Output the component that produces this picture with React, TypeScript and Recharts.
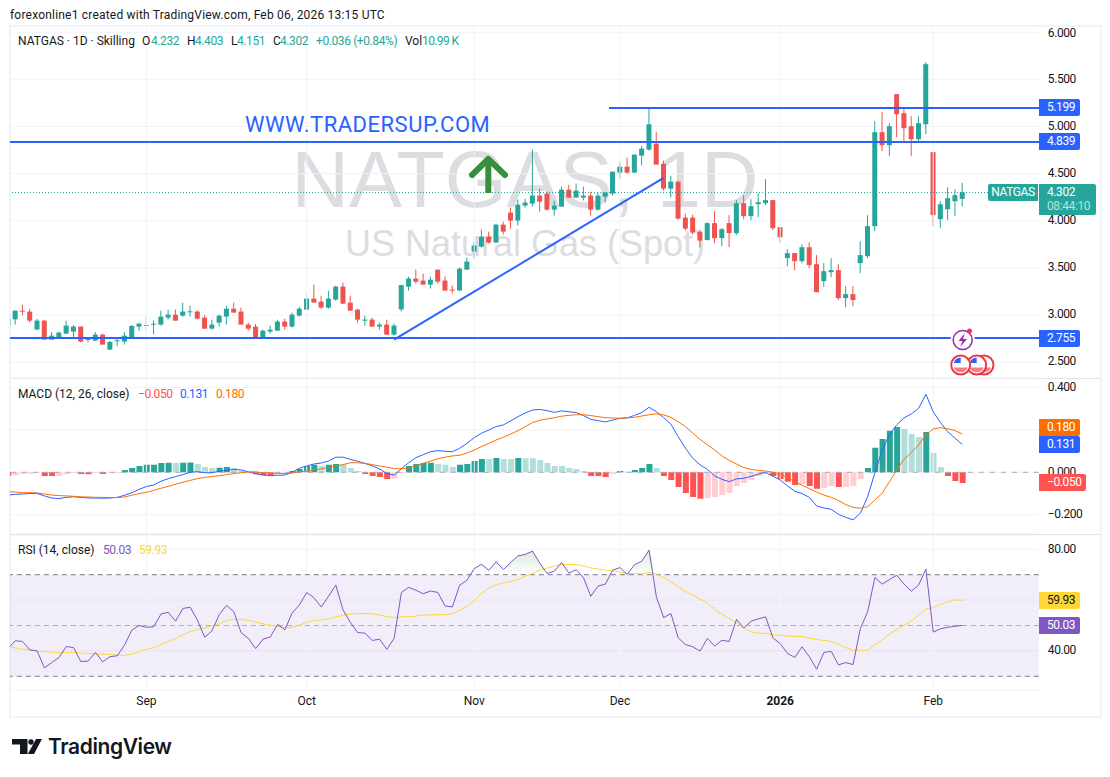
import React from 'react';
import {
  Area,
  Bar,
  CartesianGrid,
  Cell,
  ComposedChart,
  Line,
  ReferenceArea,
  ReferenceLine,
  XAxis,
  YAxis,
} from 'recharts';

// daily OHLC, one row of ten sessions per line
const opens = [
  2.888, 2.955, 3.047, 3.037, 2.846, 2.941, 2.740, 2.765, 2.803, 2.825,
  2.878, 2.736, 2.729, 2.793, 2.634, 2.722, 2.719, 2.761, 2.878, 2.885,
  2.899, 2.899, 2.973, 3.005, 2.994, 3.030, 3.037, 2.973, 2.856, 2.920,
  2.984, 3.068, 3.037, 2.899, 2.878, 2.765, 2.825, 2.835, 2.931, 2.878,
  2.994, 3.058, 3.175, 3.143, 3.079, 3.164, 3.302, 3.132, 3.058, 2.941,
  2.952, 2.878, 2.899, 2.793, 3.060, 3.302, 3.387, 3.366, 3.323, 3.482,
  3.366, 3.270, 3.260, 3.482, 3.673, 3.726, 3.832, 3.769, 3.959, 4.087,
  4.002, 4.161, 4.182, 4.267, 4.288, 4.118, 4.150, 4.330, 4.246, 4.246,
  4.267, 4.118, 4.256, 4.288, 4.511, 4.574, 4.511, 4.691, 4.755, 4.818,
  4.606, 4.341, 4.415, 4.034, 4.034, 3.885, 3.795, 3.975, 3.816, 3.975,
  3.869, 4.187, 4.049, 4.176, 4.187, 4.219, 3.932, 3.604, 3.657, 3.572,
  3.720, 3.540, 3.360, 3.455, 3.477, 3.180, 3.222, 3.551, 3.625, 3.943,
  4.940, 4.802, 5.343, 5.141, 5.003, 4.865, 5.024, 4.728, 4.017, 4.123,
  4.208, 4.232,
];
const highs = [
  2.970, 3.047, 3.111, 3.065, 2.959, 2.948, 2.821, 2.825, 2.941, 2.895,
  2.878, 2.765, 2.821, 2.803, 2.726, 2.757, 2.821, 2.895, 2.917, 2.984,
  2.941, 3.047, 3.058, 3.058, 3.132, 3.100, 3.054, 3.001, 2.952, 3.005,
  3.100, 3.132, 3.079, 2.920, 2.906, 2.846, 2.888, 2.952, 2.962, 3.026,
  3.090, 3.227, 3.323, 3.206, 3.259, 3.312, 3.344, 3.206, 3.068, 2.994,
  2.973, 2.920, 2.952, 2.909, 3.320, 3.408, 3.482, 3.440, 3.408, 3.482,
  3.408, 3.313, 3.504, 3.610, 3.779, 3.906, 3.885, 3.970, 3.991, 4.140,
  4.224, 4.235, 4.755, 4.341, 4.309, 4.214, 4.362, 4.383, 4.394, 4.362,
  4.309, 4.299, 4.299, 4.521, 4.627, 4.670, 4.702, 4.797, 5.193, 4.945,
  4.638, 4.479, 4.426, 4.076, 4.065, 3.906, 3.985, 4.102, 3.922, 4.060,
  4.219, 4.272, 4.229, 4.293, 4.441, 4.219, 3.932, 3.699, 3.657, 3.752,
  3.773, 3.636, 3.551, 3.604, 3.540, 3.307, 3.307, 3.784, 4.060, 5.056,
  5.152, 5.035, 5.343, 5.183, 5.109, 5.109, 5.682, 4.728, 4.208, 4.356,
  4.335, 4.403,
];
const lows = [
  2.881, 2.899, 2.998, 2.920, 2.846, 2.740, 2.740, 2.754, 2.803, 2.768,
  2.712, 2.712, 2.729, 2.687, 2.634, 2.669, 2.687, 2.754, 2.835, 2.835,
  2.793, 2.888, 2.952, 2.941, 2.984, 2.984, 2.952, 2.856, 2.846, 2.878,
  2.899, 3.026, 2.899, 2.835, 2.761, 2.765, 2.803, 2.835, 2.846, 2.867,
  2.984, 3.058, 3.132, 3.068, 3.068, 3.153, 3.121, 3.047, 2.920, 2.888,
  2.878, 2.846, 2.793, 2.782, 3.040, 3.260, 3.334, 3.323, 3.281, 3.334,
  3.260, 3.228, 3.260, 3.482, 3.599, 3.716, 3.758, 3.769, 3.853, 3.917,
  3.949, 4.140, 4.150, 4.097, 4.108, 4.055, 4.150, 4.246, 4.246, 4.214,
  4.055, 4.108, 4.193, 4.267, 4.447, 4.500, 4.511, 4.585, 4.744, 4.596,
  4.320, 4.246, 4.012, 3.896, 3.853, 3.716, 3.795, 3.763, 3.731, 3.720,
  3.848, 4.017, 4.007, 4.038, 4.166, 3.901, 3.763, 3.519, 3.477, 3.551,
  3.498, 3.243, 3.296, 3.402, 3.159, 3.084, 3.095, 3.445, 3.604, 3.890,
  4.738, 4.685, 4.887, 4.844, 4.685, 4.834, 4.918, 3.943, 3.922, 4.007,
  4.049, 4.151,
];
const closes = [
  2.959, 3.047, 3.037, 2.941, 2.941, 2.740, 2.782, 2.814, 2.888, 2.878,
  2.719, 2.747, 2.793, 2.687, 2.715, 2.733, 2.782, 2.885, 2.909, 2.895,
  2.909, 2.984, 3.005, 2.941, 3.037, 3.040, 2.962, 2.856, 2.899, 2.994,
  3.068, 3.026, 2.899, 2.856, 2.761, 2.835, 2.846, 2.931, 2.878, 3.005,
  3.068, 3.175, 3.132, 3.079, 3.175, 3.302, 3.121, 3.047, 2.952, 2.952,
  2.878, 2.899, 2.793, 2.888, 3.318, 3.387, 3.355, 3.323, 3.376, 3.355,
  3.260, 3.260, 3.493, 3.567, 3.737, 3.832, 3.769, 3.959, 3.885, 4.002,
  4.171, 4.193, 4.267, 4.203, 4.118, 4.161, 4.330, 4.246, 4.320, 4.267,
  4.118, 4.267, 4.299, 4.521, 4.574, 4.511, 4.702, 4.765, 5.023, 4.596,
  4.341, 4.415, 4.023, 3.917, 3.875, 3.790, 3.975, 3.816, 3.911, 3.869,
  4.187, 4.049, 4.155, 4.197, 4.219, 3.922, 3.826, 3.657, 3.572, 3.720,
  3.530, 3.243, 3.466, 3.477, 3.180, 3.222, 3.159, 3.636, 3.943, 4.940,
  4.802, 5.003, 5.130, 4.982, 4.865, 5.035, 5.661, 4.060, 4.176, 4.240,
  4.272, 4.302,
];

const macdHist = [
  -0.016, -0.014, -0.008, -0.008, -0.003, -0.017, -0.018, -0.017, -0.009, -0.003,
  -0.008, -0.009, -0.003, -0.008, -0.003, -0.003, 0.011, 0.02, 0.03, 0.035,
  0.036, 0.044, 0.045, 0.044, 0.045, 0.046, 0.039, 0.025, 0.02, 0.021,
  0.025, 0.02, 0.006, 0.001, -0.009, -0.013, -0.014, -0.005, -0.003, 0.006,
  0.016, 0.03, 0.035, 0.03, 0.035, 0.039, 0.035, 0.02, 0.006, -0.008,
  -0.017, -0.022, -0.031, -0.03, -0.003, 0.03, 0.039, 0.044, 0.045, 0.039,
  0.035, 0.025, 0.035, 0.039, 0.053, 0.063, 0.062, 0.067, 0.063, 0.063,
  0.067, 0.066, 0.066, 0.058, 0.044, 0.03, 0.03, 0.02, 0.016, 0.006,
  -0.017, -0.018, -0.022, -0.008, 0.006, 0.002, 0.011, 0.02, 0.039, 0.02,
  -0.017, -0.036, -0.069, -0.097, -0.116, -0.125, -0.121, -0.116, -0.107, -0.097,
  -0.064, -0.05, -0.036, -0.017, -0.008, -0.017, -0.031, -0.045, -0.06, -0.055,
  -0.064, -0.078, -0.074, -0.064, -0.069, -0.069, -0.064, -0.031, 0.02, 0.115,
  0.157, 0.195, 0.213, 0.204, 0.18, 0.166, 0.19, 0.091, 0.025, -0.017,
  -0.041, -0.05,
];
const macdLine = [
  -0.107, -0.104, -0.102, -0.100, -0.100, -0.111, -0.121, -0.124, -0.118, -0.115,
  -0.118, -0.121, -0.121, -0.122, -0.121, -0.118, -0.108, -0.096, -0.080, -0.067,
  -0.060, -0.042, -0.030, -0.020, -0.011, 0, 0.003, -0.002, -0.002, 0.005,
  0.009, 0.014, 0.011, 0.002, -0.006, -0.013, -0.016, -0.014, -0.013, 0,
  0.019, 0.030, 0.039, 0.044, 0.053, 0.071, 0.071, 0.061, 0.052, 0.042,
  0.030, 0.016, -0.006, -0.013, 0.017, 0.045, 0.069, 0.083, 0.097, 0.102,
  0.099, 0.097, 0.113, 0.136, 0.163, 0.184, 0.199, 0.215, 0.223, 0.242,
  0.262, 0.279, 0.293, 0.296, 0.290, 0.282, 0.289, 0.285, 0.281, 0.267,
  0.249, 0.243, 0.237, 0.246, 0.254, 0.256, 0.268, 0.281, 0.306, 0.285,
  0.257, 0.226, 0.168, 0.113, 0.066, 0.035, 0.014, -0.017, -0.033, -0.044,
  -0.031, -0.028, -0.019, -0.009, 0, -0.019, -0.036, -0.064, -0.089, -0.100,
  -0.118, -0.158, -0.168, -0.174, -0.198, -0.212, -0.224, -0.193, -0.115, -0.002,
  0.105, 0.176, 0.223, 0.256, 0.275, 0.301, 0.367, 0.285, 0.234, 0.191,
  0.160, 0.131,
];
const macdSignal = [
  -0.091, -0.093, -0.096, -0.096, -0.097, -0.102, -0.107, -0.110, -0.111, -0.113,
  -0.116, -0.116, -0.118, -0.118, -0.119, -0.119, -0.116, -0.108, -0.100, -0.094,
  -0.085, -0.075, -0.066, -0.056, -0.047, -0.038, -0.030, -0.024, -0.020, -0.016,
  -0.011, -0.006, -0.002, 0.002, 0.002, -0.002, -0.005, -0.006, -0.006, -0.003,
  0.002, 0.005, 0.011, 0.016, 0.024, 0.030, 0.036, 0.045, 0.045, 0.042,
  0.036, 0.030, 0.024, 0.017, 0.017, 0.020, 0.030, 0.042, 0.053, 0.064,
  0.071, 0.077, 0.080, 0.091, 0.105, 0.121, 0.136, 0.152, 0.165, 0.180,
  0.196, 0.215, 0.234, 0.245, 0.251, 0.257, 0.264, 0.268, 0.271, 0.271,
  0.267, 0.262, 0.257, 0.256, 0.254, 0.256, 0.259, 0.265, 0.271, 0.275,
  0.270, 0.259, 0.238, 0.215, 0.184, 0.155, 0.129, 0.105, 0.077, 0.056,
  0.039, 0.022, 0.014, 0.009, 0.006, 0, -0.008, -0.025, -0.044, -0.061,
  -0.077, -0.093, -0.107, -0.118, -0.133, -0.152, -0.165, -0.169, -0.162, -0.130,
  -0.099, -0.044, 0.011, 0.061, 0.093, 0.129, 0.176, 0.204, 0.210, 0.205,
  0.196, 0.180,
];

const rsiLine = [
  40.9, 44.0, 43.7, 40.4, 40.0, 33.3, 35.4, 37.4, 41.7, 41.3,
  35.8, 36.0, 39.4, 35.7, 37.7, 38.1, 42.3, 48.2, 50.0, 49.3,
  49.5, 54.5, 55.2, 51.7, 56.7, 57.2, 52.1, 45.4, 47.9, 54.3,
  57.9, 55.4, 47.2, 44.9, 40.9, 44.6, 45.5, 50.4, 48.3, 54.9,
  58.1, 63.0, 60.9, 57.3, 61.5, 65.9, 56.0, 51.2, 47.2, 47.0,
  44.1, 44.6, 40.6, 44.9, 63.0, 65.0, 63.9, 62.5, 63.6, 63.0,
  57.7, 57.3, 65.9, 67.8, 72.4, 74.1, 71.7, 75.1, 72.0, 74.8,
  77.4, 78.0, 79.3, 74.5, 70.5, 71.4, 74.8, 70.6, 72.0, 68.8,
  61.5, 65.5, 66.3, 71.8, 72.8, 70.1, 74.0, 75.3, 79.7, 61.3,
  53.1, 54.7, 45.1, 42.5, 41.6, 39.9, 44.9, 41.9, 44.2, 43.7,
  52.4, 49.0, 51.7, 52.6, 53.4, 45.1, 42.9, 39.0, 37.4, 41.6,
  37.7, 32.8, 39.4, 39.8, 34.5, 35.4, 34.6, 48.8, 55.4, 68.9,
  66.3, 68.1, 69.8, 66.3, 63.5, 65.9, 72.2, 47.4, 48.7, 49.3,
  49.7, 50.03,
];
const rsiAverage = [
  41.7, 41.2, 40.7, 40.3, 39.9, 39.8, 39.5, 39.4, 39.4, 39.4,
  39.2, 39.0, 38.8, 38.7, 38.6, 38.3, 38.2, 38.7, 39.6, 40.6,
  41.3, 42.5, 43.7, 44.8, 46.3, 47.6, 48.4, 49.1, 49.9, 50.7,
  52.0, 52.4, 52.4, 52.0, 51.4, 50.7, 50.1, 49.6, 49.2, 49.3,
  50.1, 51.3, 52.0, 52.2, 52.6, 53.3, 54.1, 54.5, 54.7, 54.7,
  54.6, 54.1, 53.5, 53.1, 53.4, 53.5, 53.7, 54.1, 54.2, 54.2,
  54.3, 54.6, 56.0, 57.5, 59.8, 62.6, 64.8, 66.1, 66.8, 67.3,
  68.1, 69.4, 70.5, 71.8, 72.6, 73.4, 74.0, 74.0, 74.0, 73.4,
  72.7, 72.2, 71.8, 71.5, 71.1, 70.5, 70.5, 70.3, 70.9, 70.2,
  68.8, 67.2, 65.2, 63.5, 61.9, 60.4, 58.8, 56.4, 54.5, 52.8,
  51.0, 49.1, 47.5, 47.0, 46.9, 46.3, 46.2, 45.8, 45.7, 45.7,
  45.0, 44.5, 44.1, 43.7, 42.5, 41.3, 40.3, 40.2, 40.3, 42.5,
  44.4, 46.6, 48.4, 50.1, 51.7, 54.1, 56.4, 57.1, 58.3, 59.3,
  60.1, 59.93,
];

// sessions on the axis, the last ones are the empty space right of the last bar
const sessions = Array.from({ length: 142 }, (_, i) => i + 1);
const monthTicks = [20, 42, 65, 85, 107, 128];
const monthLabels = ['Sep', 'Oct', 'Nov', 'Dec', '2026', 'Feb'];
const priceTicks = [2.5, 3, 3.5, 4, 4.5, 5, 5.5, 6];
const macdTicks = [-0.2, 0, 0.2, 0.4];
const rsiTicks = [40, 60, 80];

const trendStart = { x: 54, y: 2.739 };
const trendEnd = { x: 91, y: 4.455 };
const resistance = 5.199;
const support = 4.839;
const floorLevel = 2.755;
const lastClose = 4.302;

const rows = sessions.map((n, i) => ({
  n,
  open: opens[i],
  high: highs[i],
  low: lows[i],
  close: closes[i],
  hist: macdHist[i],
  prevHist: i > 0 ? macdHist[i - 1] : 0,
  macd: macdLine[i],
  signal: macdSignal[i],
  rsi: rsiLine[i],
  rsiMa: rsiAverage[i],
}));

const UP = '#26a69a';
const DOWN = '#ef5350';
const GRID = '#f0f3fa';
const BLUE = '#2962ff';
const INK = '#131722';
const FONT = 'Roboto, sans-serif';
const NUM_SPACING = -0.4; // the digits of the reference run a bit narrower

const chartW = 1091;
const axisW = 62.17;
const margin = { top: 0, right: 0, bottom: 0, left: -5.64 };
const tickStyle = { fontSize: 12, fill: INK, fontFamily: FONT, letterSpacing: NUM_SPACING, dy: -1 };

const Candle = (props: any) => {
  const { x, y, width, height, payload } = props;
  if (payload == null || payload.open == null) return null;
  const { open, close, high, low } = payload;
  const k = height / (high - low);
  const top = y + (high - Math.max(open, close)) * k;
  const body = Math.max(Math.abs(open - close) * k, 1);
  const color = close >= open ? UP : DOWN;
  const mid = x + width / 2;
  return (
    <g>
      <line x1={mid} x2={mid} y1={y} y2={y + height} stroke={color} strokeWidth={1} />
      <rect x={x} y={top} width={width} height={body} fill={color} />
    </g>
  );
};

const histColor = (h: number, prev: number) => {
  if (h >= 0) return h > prev ? '#26a69a' : '#b2dfdb';
  return h < prev ? '#ff5252' : '#ffcdd2';
};

const MonthTick = (props: any) => {
  const { x, y, payload } = props;
  const label = monthLabels[monthTicks.indexOf(payload.value)];
  return (
    <text
      x={x}
      y={y}
      dy={6}
      textAnchor="middle"
      fontFamily={FONT}
      fontSize={12}
      fontWeight={label === '2026' ? 700 : 400}
      fill={INK}
    >
      {label}
    </text>
  );
};

const monthLines = monthTicks.map((m) => (
  <ReferenceLine key={m} x={m} stroke={GRID} strokeWidth={1} />
));

const Txt = ({ x, y, color = INK, size = 12, weight = 400, ls = 0, children }: any) => (
  <div
    style={{
      position: 'absolute',
      left: x,
      top: y - 8,
      height: 16,
      lineHeight: '16px',
      fontSize: size,
      fontWeight: weight,
      letterSpacing: ls,
      color,
      whiteSpace: 'nowrap',
    }}
  >
    {children}
  </div>
);

const Badge = ({ top, w = 41, bg, color = '#fff', children }: any) => (
  <div
    style={{
      position: 'absolute',
      left: 1039,
      top,
      width: w,
      height: 17,
      lineHeight: '17px',
      background: bg,
      color,
      fontSize: 12,
      letterSpacing: NUM_SPACING,
      paddingLeft: 8,
      boxSizing: 'border-box',
      borderRadius: '0 2px 2px 0',
    }}
  >
    {children}
  </div>
);

const Flag = ({ cx }: { cx: number }) => (
  <g>
    <circle cx={cx} cy={365} r={9.5} fill="#fff" stroke="#f23645" strokeWidth={2} />
    <path d={`M${cx} 357.5 A7.5 7.5 0 0 0 ${cx - 7} 363 H${cx} Z`} fill="#2962ff" />
    <path d={`M${cx - 7} 367.5 H${cx + 7} A7.5 7.5 0 0 1 ${cx - 7} 367.5 Z`} fill="#f77c80" />
  </g>
);

export default function App() {
  return (
    <div
      style={{
        position: 'absolute',
        left: 0,
        top: 0,
        width: 1110,
        height: 777,
        overflow: 'hidden',
        background: '#fff',
        fontFamily: FONT,
      }}
    >
      <Txt x={10} y={15} ls={0.2}>
        forexonline1 created with TradingView.com, Feb 06, 2026 13:15 UTC
      </Txt>

      {/* frame and pane separators */}
      <div
        style={{
          position: 'absolute',
          left: 9,
          top: 25,
          width: 1093,
          height: 693,
          border: `2px solid ${GRID}`,
          boxSizing: 'border-box',
        }}
      />
      <div style={{ position: 'absolute', left: 10, top: 378, width: 1091, height: 1, background: '#e0e3eb' }} />
      <div style={{ position: 'absolute', left: 10, top: 534, width: 1091, height: 1, background: '#e0e3eb' }} />

      {/* watermark sits under the candles */}
      <svg width={1110} height={378} style={{ position: 'absolute', left: 0, top: 0 }}>
        <text x={525} y={207} textAnchor="middle" fontFamily="'Liberation Sans'" fontSize={79.5} fill="#dcdde0">
          NATGAS, 1D
        </text>
        <text x={525} y={256} textAnchor="middle" fontFamily="'Liberation Sans'" fontSize={36} fill="#dcdde0">
          US Natural Gas (Spot)
        </text>
      </svg>

      <div style={{ position: 'absolute', left: 10, top: 26 }}>
        <ComposedChart width={chartW} height={352} data={rows} margin={margin}>
          <CartesianGrid vertical={false} stroke={GRID} />
          {monthLines}
          <XAxis dataKey="n" type="category" scale="band" hide />
          <YAxis
            orientation="right"
            width={axisW}
            domain={[2.3328, 6.0658]}
            ticks={priceTicks}
            allowDataOverflow
            tickFormatter={(v: number) => v.toFixed(3)}
            tick={tickStyle}
            axisLine={false}
            tickLine={false}
            tickSize={0}
            tickMargin={9}
          />
          <Bar dataKey={(d: any) => (d.high == null ? null : [d.low, d.high])} barSize={5} shape={<Candle />} isAnimationActive={false} />
          <ReferenceLine
            segment={[{ x: 1, y: lastClose }, { x: 135, y: lastClose }]}
            position="end"
            stroke={UP}
            strokeDasharray="1 2"
            shapeRendering="crispEdges"
          />
          <ReferenceLine y={support} stroke={BLUE} strokeWidth={2} shapeRendering="crispEdges" />
          <ReferenceLine y={floorLevel} stroke={BLUE} strokeWidth={2} shapeRendering="crispEdges" />
          <ReferenceLine
            segment={[{ x: 83, y: resistance }, { x: 142, y: resistance }]}
            position="end"
            stroke={BLUE}
            strokeWidth={2}
            shapeRendering="crispEdges"
          />
          <ReferenceLine segment={[trendStart, trendEnd]} stroke={BLUE} strokeWidth={2} />
        </ComposedChart>
      </div>

      <div style={{ position: 'absolute', left: 10, top: 378 }}>
        <ComposedChart width={chartW} height={156} data={rows} margin={margin}>
          <CartesianGrid vertical={false} stroke={GRID} />
          {monthLines}
          <XAxis dataKey="n" type="category" scale="band" hide />
          <YAxis
            orientation="right"
            width={axisW}
            domain={[-0.2904, 0.4438]}
            ticks={macdTicks}
            allowDataOverflow
            tickFormatter={(v: number) => {
              // the 0.200 label is covered by the two value badges
              if (v === 0.2) return '';
              return v < 0 ? `\u2212${Math.abs(v).toFixed(3)}` : v.toFixed(3);
            }}
            tick={tickStyle}
            axisLine={false}
            tickLine={false}
            tickSize={0}
            tickMargin={9}
          />
          <ReferenceLine y={0} stroke="#a9abb2" strokeDasharray="5 6" />
          <Bar dataKey="hist" barSize={6} isAnimationActive={false}>
            {rows.map((r) => (
              <Cell key={r.n} fill={r.hist == null ? 'none' : histColor(r.hist, r.prevHist)} />
            ))}
          </Bar>
          <Line dataKey="macd" stroke={BLUE} strokeWidth={1} dot={false} activeDot={false} isAnimationActive={false} />
          <Line dataKey="signal" stroke="#ff6d00" strokeWidth={1} dot={false} activeDot={false} isAnimationActive={false} />
        </ComposedChart>
      </div>

      <div style={{ position: 'absolute', left: 10, top: 535 }}>
        <ComposedChart width={chartW} height={182} data={rows} margin={margin}>
          <defs>
            <linearGradient id="obFill" x1="0" y1="0" x2="0" y2="1">
              <stop offset="0%" stopColor="#4caf50" stopOpacity={0.4} />
              <stop offset="100%" stopColor="#4caf50" stopOpacity={0} />
            </linearGradient>
          </defs>
          <CartesianGrid vertical={false} stroke={GRID} />
          <ReferenceArea y1={30} y2={70} fill="#7e57c2" fillOpacity={0.1} stroke="none" />
          {monthLines}
          <XAxis
            dataKey="n"
            type="category"
            scale="band"
            height={27}
            ticks={monthTicks}
            interval={0}
            tick={<MonthTick />}
            axisLine={false}
            tickLine={false}
            tickSize={0}
            tickMargin={9}
          />
          <YAxis
            orientation="right"
            width={axisW}
            domain={[24.6, 85.63]}
            ticks={rsiTicks}
            allowDataOverflow
            tickFormatter={(v: number) => (v === 60 ? '' : v.toFixed(2))}
            tick={tickStyle}
            axisLine={false}
            tickLine={false}
            tickSize={0}
            tickMargin={9}
          />
          <ReferenceLine y={70} stroke="#787b86" strokeDasharray="5 4" />
          <ReferenceLine y={50} stroke="#b3adc4" strokeDasharray="5 4" />
          <ReferenceLine y={30} stroke="#787b86" strokeDasharray="5 4" />
          <Area
            dataKey={(d: any) => (d.rsi == null ? null : [70, Math.max(70, d.rsi)])}
            stroke="none"
            fill="url(#obFill)"
            dot={false}
            activeDot={false}
            isAnimationActive={false}
          />
          <Line dataKey="rsiMa" stroke="#fdd835" strokeWidth={1} dot={false} activeDot={false} isAnimationActive={false} />
          <Line dataKey="rsi" stroke="#7e57c2" strokeWidth={1} dot={false} activeDot={false} isAnimationActive={false} />
        </ComposedChart>
      </div>

      {/* legends */}
      <Txt x={18} y={41}>NATGAS · 1D · Skilling</Txt>
      <Txt x={142} y={41}>O</Txt>
      <Txt x={151} y={41} color={UP} ls={NUM_SPACING}>4.232</Txt>
      <Txt x={187} y={41}>H</Txt>
      <Txt x={195} y={41} color={UP} ls={NUM_SPACING}>4.403</Txt>
      <Txt x={231} y={41}>L</Txt>
      <Txt x={237} y={41} color={UP} ls={NUM_SPACING}>4.151</Txt>
      <Txt x={273} y={41}>C</Txt>
      <Txt x={280} y={41} color={UP} ls={NUM_SPACING}>4.302</Txt>
      <Txt x={316} y={41} color={UP} ls={NUM_SPACING}>+0.036 (+0.84%)</Txt>
      <Txt x={405} y={41}>Vol</Txt>
      <Txt x={422} y={41} color={UP} ls={-0.6}>10.99 K</Txt>

      <Txt x={18} y={394}>MACD (12, 26, close)</Txt>
      <Txt x={138} y={394} color="#ff5252" ls={NUM_SPACING}>−0.050</Txt>
      <Txt x={180} y={394} color={BLUE} ls={NUM_SPACING}>0.131</Txt>
      <Txt x={216} y={394} color="#ff6d00" ls={NUM_SPACING}>0.180</Txt>

      <Txt x={18} y={550}>RSI (14, close)</Txt>
      <Txt x={103} y={550} color="#7e57c2" ls={NUM_SPACING}>50.03</Txt>
      <Txt x={139} y={550} color="#fdd835" ls={NUM_SPACING}>59.93</Txt>

      <Txt x={245} y={125} size={22} color={BLUE} ls={0.5}>WWW.TRADERSUP.COM</Txt>

      {/* drawing tools on top of the price pane */}
      <svg width={1110} height={378} style={{ position: 'absolute', left: 0, top: 0, pointerEvents: 'none' }}>
        <path d="M472 175 L488.3 159 L505 175" fill="none" stroke="#388e3c" strokeWidth={6} strokeLinecap="round" strokeLinejoin="round" />
        <path d="M488.3 160 V193" fill="none" stroke="#388e3c" strokeWidth={6} />
        <circle cx={962.7} cy={340} r={12} fill="#fff" />
        <circle cx={962.7} cy={340} r={9.5} fill="#fff" stroke="#9c27b0" strokeWidth={1.5} />
        <path d="M965 333 L958.5 341 H962.5 L960 347 L967 339 H963 Z" fill="#9c27b0" />
        <circle cx={969.5} cy={331} r={2.5} fill="#f23645" />
        <Flag cx={984} />
        <Flag cx={976.7} />
        <Flag cx={960.7} />
      </svg>

      {/* price scale badges */}
      <Badge top={99} bg={BLUE}>5.199</Badge>
      <Badge top={133} bg={BLUE}>4.839</Badge>
      <Badge top={330} bg={BLUE}>2.755</Badge>
      <div
        style={{
          position: 'absolute',
          left: 988,
          top: 184,
          width: 50,
          height: 17,
          lineHeight: '17px',
          background: UP,
          color: '#fff',
          fontSize: 12,
          letterSpacing: NUM_SPACING,
          textAlign: 'center',
          borderRadius: '2px 0 0 2px',
        }}
      >
        NATGAS
      </div>
      <div
        style={{
          position: 'absolute',
          left: 1039,
          top: 184,
          width: 57,
          height: 31,
          background: UP,
          color: '#fff',
          fontSize: 12,
          letterSpacing: NUM_SPACING,
          paddingLeft: 8,
          boxSizing: 'border-box',
          borderRadius: '0 2px 2px 0',
        }}
      >
        <div style={{ height: 15, lineHeight: '17px' }}>4.302</div>
        <div style={{ height: 15, lineHeight: '15px', color: '#b9e3df' }}>08:44:10</div>
      </div>

      <Badge top={419} bg="#ff6d00">0.180</Badge>
      <Badge top={436} bg={BLUE}>0.131</Badge>
      <Badge top={474} w={47} bg="#ff5252">−0.050</Badge>

      <Badge top={592} bg="#fdd835" color={INK}>59.93</Badge>
      <Badge top={617} bg="#7e57c2">50.03</Badge>

      {/* logo */}
      <svg width={60} height={30} style={{ position: 'absolute', left: 0, top: 732 }}>
        <path d="M12 7 H27.5 V22 H20 V12.5 H12 Z" fill="#131722" />
        <circle cx={31} cy={10} r={2.7} fill="#131722" />
        <path d="M36 7 H42 L34 22 H27.8 Z" fill="#131722" />
      </svg>
      <Txt x={48} y={747} size={21} weight={600}>
        <span style={{ fontFamily: 'Inter, sans-serif', letterSpacing: -0.4 }}>TradingView</span>
      </Txt>
    </div>
  );
}
